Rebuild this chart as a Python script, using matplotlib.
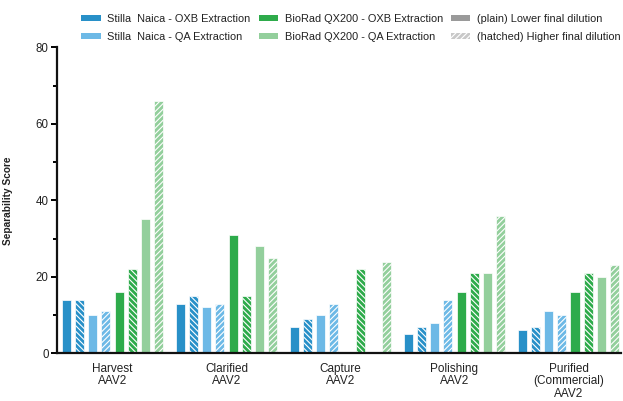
import numpy as np
import matplotlib
matplotlib.use("Agg")
import matplotlib.pyplot as plt
from matplotlib.patches import Patch
from matplotlib.ticker import MultipleLocator

plt.rcParams["font.family"] = ["Liberation Sans", "DejaVu Sans"]
plt.rcParams["hatch.linewidth"] = 0.8

categories = ["Harvest\nAAV2", "Clarified\nAAV2", "Capture\nAAV2",
              "Polishing\nAAV2", "Purified\n(Commercial)\nAAV2"]

# Separability score per process step (plain = lower dilution, hatched = higher dilution)
stilla_oxb_low = [14, 13, 7, 5, 6]
stilla_oxb_high = [14, 15, 9, 7, 7]
stilla_qa_low = [10, 12, 10, 8, 11]
stilla_qa_high = [11, 13, 13, 14, 10]
biorad_oxb_low = [16, 31, np.nan, 16, 16]
biorad_oxb_high = [22, 15, 22, 21, 21]
biorad_qa_low = [35, 28, np.nan, 21, 20]
biorad_qa_high = [66, 25, 24, 36, 23]

legend_labels = ["Stilla  Naica - OXB Extraction", "Stilla  Naica - QA Extraction",
                 "BioRad QX200 - OXB Extraction", "BioRad QX200 - QA Extraction",
                 "(plain) Lower final dilution", "(hatched) Higher final dilution"]

c_dblue = "#2890c8"
c_lblue = "#6db9e6"
c_dgreen = "#2eab4b"
c_lgreen = "#93cf9c"
c_grey = "#9a9a9a"

back = "\\" * 6
fwd = "/" * 6
series = [
    (stilla_oxb_low, c_dblue, None),
    (stilla_oxb_high, c_dblue, back),
    (stilla_qa_low, c_lblue, None),
    (stilla_qa_high, c_lblue, fwd),
    (biorad_oxb_low, c_dgreen, None),
    (biorad_oxb_high, c_dgreen, back),
    (biorad_qa_low, c_lgreen, None),
    (biorad_qa_high, c_lgreen, fwd),
]

W, H = 623, 401
fig = plt.figure(figsize=(W / 100, H / 100), dpi=100)
ax = fig.add_axes([57 / W, 1 - 353.3 / H, (621 - 57) / W, (353.3 - 47.3) / H])

x = np.arange(len(categories))
pitch = 0.1149
width = 0.079
for k, (vals, col, hatch) in enumerate(series):
    ax.bar(x + (k - 3.5) * pitch, vals, width, color=col,
           edgecolor="white", linewidth=0.5, hatch=hatch, zorder=2)

ax.set_xlim(-0.487, 4.461)
ax.set_ylim(0, 80)
ax.yaxis.set_major_locator(MultipleLocator(20))
ax.yaxis.set_minor_locator(MultipleLocator(10))
ax.set_xticks(x)
ax.set_xticklabels(categories, fontsize=8.5, color="#222222", linespacing=1.05)
ax.tick_params(axis="x", length=0, pad=7)
ax.tick_params(axis="y", which="major", length=4.5, width=1.4, labelsize=8.3,
               labelcolor="#222222", pad=1.5)
ax.tick_params(axis="y", which="minor", length=2.6, width=1.4)

for s in ["top", "right"]:
    ax.spines[s].set_visible(False)
for s in ["left", "bottom"]:
    ax.spines[s].set_linewidth(1.6)
    ax.spines[s].set_color("#111111")

ax.set_ylabel("Separability Score", fontsize=7.3, fontweight="bold", color="#222222")
ax.yaxis.set_label_coords(-0.078, 0.5)

handles = [
    Patch(facecolor=c_dblue, edgecolor="none"),
    Patch(facecolor=c_lblue, edgecolor="none"),
    Patch(facecolor=c_dgreen, edgecolor="none"),
    Patch(facecolor=c_lgreen, edgecolor="none"),
    Patch(facecolor=c_grey, edgecolor="none"),
    Patch(facecolor="#c8c8c8", edgecolor="white", linewidth=0, hatch=fwd),
]
fig.legend(handles, legend_labels, ncol=3, frameon=False, fontsize=7.9,
           loc="center left", bbox_to_anchor=(76 / W, 1 - 28 / H),
           handlelength=1.75, handleheight=0.45, handletextpad=0.6,
           columnspacing=0.75, labelspacing=0.7, borderpad=0,
           labelcolor="#222222")

fig.savefig("out.png", dpi=100)
